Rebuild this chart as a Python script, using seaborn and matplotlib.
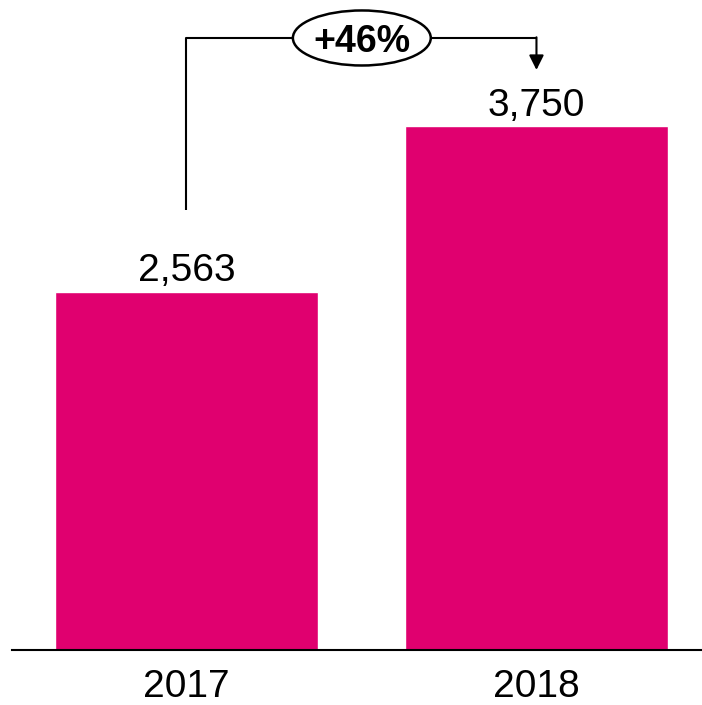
import matplotlib
matplotlib.use("Agg")
import matplotlib.pyplot as plt
import seaborn as sns
import pandas as pd
from matplotlib.patches import Ellipse

years = ["2017", "2018"]
values = [2563, 3750]
labels = ["2,563", "3,750"]
growth_label = "+46%"

sns.set_theme(style="white")
plt.rcParams['font.family'] = ['Liberation Sans', 'DejaVu Sans']

df = pd.DataFrame({"year": years, "value": values})

fig = plt.figure(figsize=(7.02, 7.05), dpi=100)
ax = fig.add_axes([12/702, 55/705, 690/702, 650/705])
sns.barplot(data=df, x="year", y="value", color="#E0006F", saturation=1,
            width=0.751, ax=ax)

ax.set_xlim(-0.4986, 1.473)
ax.set_ylim(0, 4655)
for s in ["top", "right", "left"]:
    ax.spines[s].set_visible(False)
ax.spines["bottom"].set_color("black")
ax.spines["bottom"].set_linewidth(1.5)
ax.set_yticks([])
ax.set_xlabel("")
ax.set_ylabel("")
ax.tick_params(axis="x", length=0, pad=14, labelsize=28, labelcolor="black")

for i, (v, lab) in enumerate(zip(values, labels)):
    ax.annotate(lab, (i, v), xytext=(0, 2), textcoords="offset points",
                ha="center", va="bottom", fontsize=28, color="black")

# growth bracket
y_top = 4383
y_start = 3150
ax.plot([0, 0, 0.303], [y_start, y_top, y_top], color="black", lw=1.5,
        clip_on=False, solid_capstyle="butt")
ax.plot([0.699, 1.0], [y_top, y_top], color="black", lw=1.5, clip_on=False)
ax.annotate("", xy=(1.0, 4154), xytext=(1.0, y_top + 5),
            arrowprops=dict(arrowstyle="-|>", color="black", lw=1.5,
                            mutation_scale=22, shrinkA=0, shrinkB=0))
ell = Ellipse((0.501, 4383), width=0.394, height=394, facecolor="white",
              edgecolor="black", lw=1.8, clip_on=False, zorder=5)
ax.add_patch(ell)
ax.text(0.501, 4383, growth_label, ha="center", va="center_baseline",
        fontsize=27, fontweight="bold", color="black", zorder=6)

fig.savefig("out.png", dpi=100)
